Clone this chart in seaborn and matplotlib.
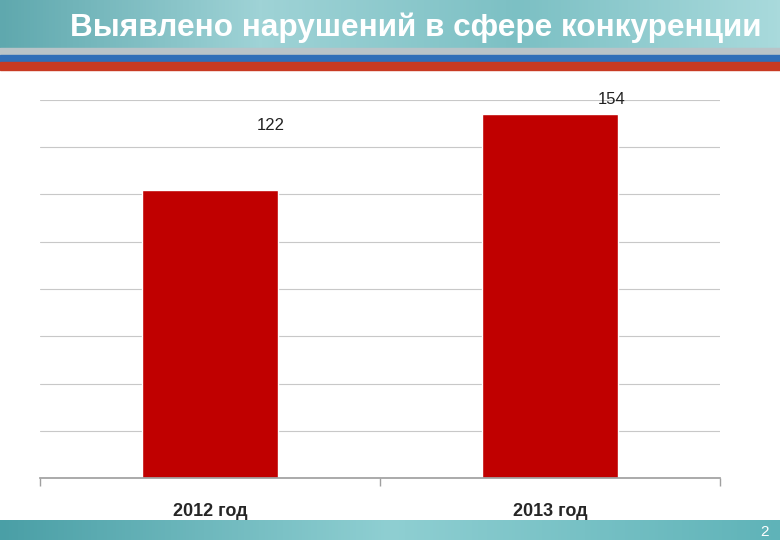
import numpy as np
import pandas as pd
import matplotlib.pyplot as plt
import matplotlib.patches as mpatches
import seaborn as sns

years = ['2012 год', '2013 год']
violations = [122, 154]
title = 'Выявлено нарушений в сфере конкуренции'

sns.set_theme(style='white')
plt.rcParams['font.family'] = ['Liberation Sans', 'DejaVu Sans']

fig = plt.figure(figsize=(7.8, 5.4), dpi=100)
W, H = 780, 540

# header background
def band(y0, y1, color):
    fig.patches.append(mpatches.Rectangle((0, 1 - y1 / H), 1, (y1 - y0) / H,
                                          transform=fig.transFigure, color=color, zorder=0))

grad = np.linspace(0, 1, 256).reshape(1, -1)
hax = fig.add_axes([0, 1 - 48 / H, 1, 48 / H])
hax.imshow(grad, aspect='auto', cmap=sns.blend_palette(['#5fa8ae', '#9fd3d6', '#7cc0c4', '#a9dadc'], as_cmap=True))
hax.axis('off')
band(48, 55, '#b8c4c8')
band(55, 62, '#2f6fb8')
band(62, 70, '#c83a22')
fax = fig.add_axes([0, 0, 1, 20 / H])
fax.imshow(grad, aspect='auto', cmap=sns.blend_palette(['#4a9fa6', '#8fcfd2', '#5fb3b8'], as_cmap=True))
fax.axis('off')
fig.text(0.985, 8 / H, '2', color='white', fontsize=11, ha='right', va='center')
fig.text(70 / W, 1 - 28 / H, title, color='white', fontsize=22.7, fontweight='bold',
         ha='left', va='center')

ax = fig.add_axes([40 / W, 1 - 478 / H, 680 / W, 378 / H])
df = pd.DataFrame({'year': years, 'value': violations})
sns.barplot(data=df, x='year', y='value', color='#c00000', saturation=1, width=0.4, ax=ax)
ax.set_ylim(0, 160)
ax.set_yticks(np.arange(0, 161, 20))
ax.set_yticklabels([])
ax.yaxis.grid(True, color='#c8c8c8', linewidth=0.8)
ax.set_axisbelow(True)
for s in ['top', 'right', 'left']:
    ax.spines[s].set_visible(False)
ax.spines['bottom'].set_color('#a0a0a0')
ax.set_xlim(-0.5, 1.5)
ax.set_xticks([-0.5, 0.5, 1.5], minor=True)
ax.tick_params(axis='x', which='minor', bottom=True, length=6, color='#a0a0a0')
ax.tick_params(axis='x', which='major', bottom=False, labelsize=13, pad=12)
for lbl in ax.get_xticklabels():
    lbl.set_fontweight('bold')
ax.set_xlabel('')
ax.set_ylabel('')
offsets = [149, 160]
for i, v in enumerate(violations):
    ax.text(i + 0.18, offsets[i], str(v), ha='center', va='center', fontsize=12, color='#222222')

fig.savefig('out.png', dpi=100)
